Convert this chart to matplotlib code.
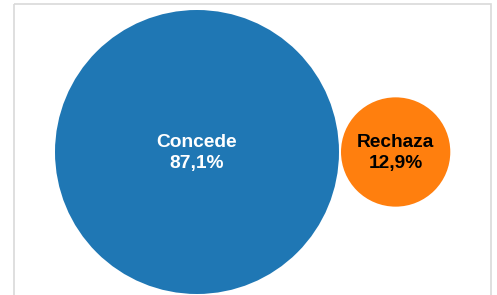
import matplotlib.pyplot as plt
from matplotlib.patches import Circle, Rectangle
import numpy as np

labels = ["Concede", "Rechaza"]
shares = [87.1, 12.9]
colors = ["#1f77b4", "#ff7f0e"]
text_colors = ["white", "black"]

plt.rcParams["font.family"] = ["Liberation Sans", "DejaVu Sans"]

fig = plt.figure(figsize=(4.97, 2.95), dpi=100)
ax = fig.add_axes([0, 0, 1, 1])
ax.set_xlim(0, 497)
ax.set_ylim(295, 0)
ax.set_aspect("equal")
ax.axis("off")

# panel frame (bottom edge runs off the image)
ax.add_patch(Rectangle((13.5, 4), 477, 320, fill=False, edgecolor="#d9d9d9", lw=1.2))

# radius proportional to sqrt(share)
k = 142 / np.sqrt(max(shares))
radii = [k * np.sqrt(s) for s in shares]
cy = 152
xs = [197, 197 + radii[0] + radii[1] + 2]

for x, r, lab, s, c, tc in zip(xs, radii, labels, shares, colors, text_colors):
    ax.add_patch(Circle((x, cy), r, color=c, lw=0))
    txt = f"{lab}\n{s:.1f}%".replace(".", ",")
    ax.text(x, cy + 1, txt, ha="center", va="center", color=tc,
            fontsize=13.8, fontweight="bold", linespacing=1.3)

fig.savefig("out.png", dpi=100)
